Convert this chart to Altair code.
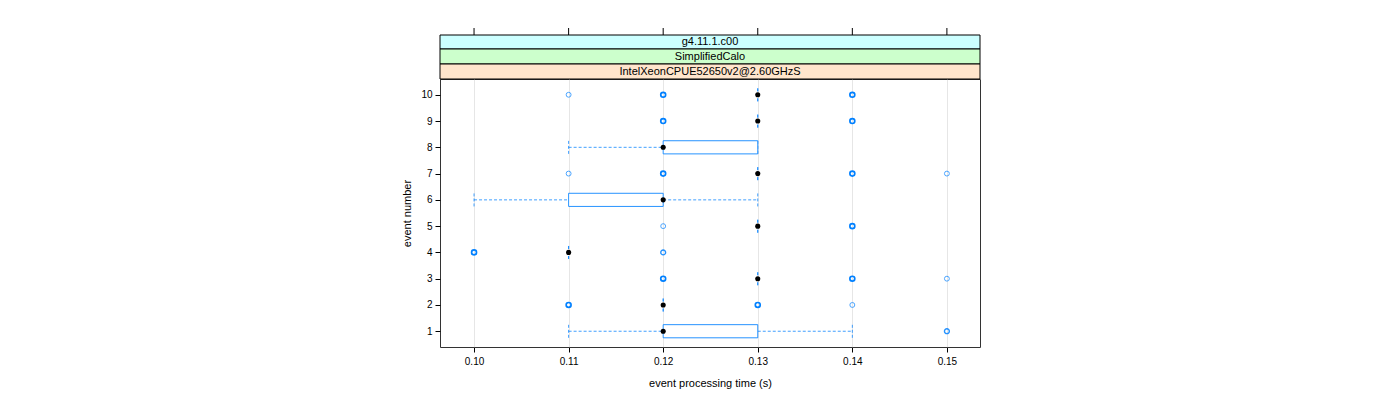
import altair as alt
import pandas as pd

# ---- data ----
events = [1, 2, 3, 4, 5, 6, 7, 8, 9, 10]
lower_whisker = [0.11, 0.12, 0.13, 0.11, 0.13, 0.10, 0.13, 0.11, 0.13, 0.13]
q1 = [0.12, 0.12, 0.13, 0.11, 0.13, 0.11, 0.13, 0.12, 0.13, 0.13]
median = [0.12, 0.12, 0.13, 0.11, 0.13, 0.12, 0.13, 0.12, 0.13, 0.13]
q3 = [0.13, 0.12, 0.13, 0.11, 0.13, 0.12, 0.13, 0.13, 0.13, 0.13]
upper_whisker = [0.14, 0.12, 0.13, 0.11, 0.13, 0.13, 0.13, 0.13, 0.13, 0.13]

out_event = [1, 2, 2, 2, 3, 3, 3, 4, 4, 5, 5, 7, 7, 7, 7, 9, 9, 10, 10, 10]
out_value = [0.15, 0.11, 0.13, 0.14, 0.12, 0.14, 0.15, 0.10, 0.12, 0.12, 0.14,
             0.11, 0.12, 0.14, 0.15, 0.12, 0.14, 0.11, 0.12, 0.14]
out_count = [2, 3, 3, 1, 3, 3, 1, 3, 2, 1, 3, 1, 3, 3, 1, 3, 3, 1, 3, 3]

x_ticks = [0.10, 0.11, 0.12, 0.13, 0.14, 0.15]
y_ticks = [1, 2, 3, 4, 5, 6, 7, 8, 9, 10]
strip_labels = ["g4.11.1.c00", "SimplifiedCalo", "IntelXeonCPUE52650v2@2.60GHzS"]
strip_colors = ["#ccffff", "#ccffcc", "#ffe5cc"]

BLUE = "#0080ff"
FONT = "Liberation Sans"

stats = pd.DataFrame({
    "event": events, "lo": lower_whisker, "q1": q1, "med": median,
    "q3": q3, "hi": upper_whisker,
})
stats["ylo"] = stats["event"] - 0.25
stats["yhi"] = stats["event"] + 0.25
outl = pd.DataFrame({"event": out_event, "value": out_value, "count": out_count})
ticks_df = pd.DataFrame({"t": x_ticks})

xscale = alt.Scale(domain=[0.0964, 0.1535], nice=False, zero=False)
yscale = alt.Scale(domain=[0.4, 10.6], nice=False, zero=False)

X = lambda f: alt.X(f, type="quantitative", scale=xscale,
                    axis=alt.Axis(values=x_ticks, format=".2f",
                                  title="event processing time (s)",
                                  grid=True, gridColor="#e6e6e6"))
Y = lambda f: alt.Y(f, type="quantitative", scale=yscale,
                    axis=alt.Axis(values=y_ticks, format="d", title="event number",
                                  grid=False))

base = alt.Chart(stats)
dash = dict(color=BLUE, strokeDash=[3, 2], strokeWidth=1, opacity=0.75)

whisk_lo = base.mark_rule(**dash).encode(x=X("lo"), x2="q1", y=Y("event"))
whisk_hi = base.mark_rule(**dash).encode(x=X("q3"), x2="hi", y=Y("event"))
cap_lo = base.mark_rule(**dash).encode(x=X("lo"), y=Y("ylo"), y2="yhi")
cap_hi = base.mark_rule(**dash).encode(x=X("hi"), y=Y("ylo"), y2="yhi")
box = base.transform_filter("datum.q3 > datum.q1").mark_rect(
    fill="white", stroke=BLUE, strokeWidth=1, strokeOpacity=0.85).encode(
    x=X("q1"), x2="q3", y=Y("ylo"), y2="yhi")
med = base.mark_point(filled=True, color="black", size=26, opacity=1).encode(
    x=X("med"), y=Y("event"))

outliers = alt.Chart(outl).mark_point(shape="circle", filled=False, color=BLUE, size=24).encode(
    x=X("value"), y=Y("event"),
    strokeWidth=alt.StrokeWidth("count:Q", scale=alt.Scale(domain=[1, 3], range=[1, 1.7]), legend=None),
    opacity=alt.Opacity("count:Q", scale=alt.Scale(domain=[1, 3], range=[0.7, 1]), legend=None),
)

top_ticks = alt.Chart(ticks_df).mark_rule(color="black", strokeWidth=1).encode(
    x=X("t"), y=alt.value(-51), y2=alt.value(-44))

strip_layers = []
tops = [-44, -30, -15]
bots = [-30, -15, 0]
for lab, col, t, b in zip(strip_labels, strip_colors, tops, bots):
    d = pd.DataFrame({"label": [lab]})
    strip_layers.append(alt.Chart(d).mark_rect(fill=col, stroke="black", strokeWidth=1).encode(
        x=alt.value(0), x2=alt.value(540), y=alt.value(t), y2=alt.value(b)))
    strip_layers.append(alt.Chart(d).mark_text(font=FONT, fontSize=11, color="black",
                                                baseline="middle", align="center").encode(
        x=alt.value(270), y=alt.value((t + b) / 2), text="label:N"))

chart = alt.layer(
    whisk_lo, whisk_hi, cap_lo, cap_hi, box, outliers, med, top_ticks, *strip_layers
).properties(
    width=540, height=268,
    autosize=alt.AutoSizeParams(type="none"),
    padding={"left": 432, "top": 71, "right": 400, "bottom": 45},
).configure_view(
    stroke="#333333", strokeWidth=1
).configure_axis(
    domain=False, ticks=True, tickSize=5, tickColor="black",
    labelFont=FONT, labelFontSize=10, labelColor="black",
    titleFont=FONT, titleFontSize=11, titleColor="black", titleFontWeight="normal",
).configure_axisX(labelPadding=4, titlePadding=11).configure_axisY(
    labelPadding=3, titlePadding=8)

chart.save("out.html", embed_options={"renderer": "svg", "actions": False})
